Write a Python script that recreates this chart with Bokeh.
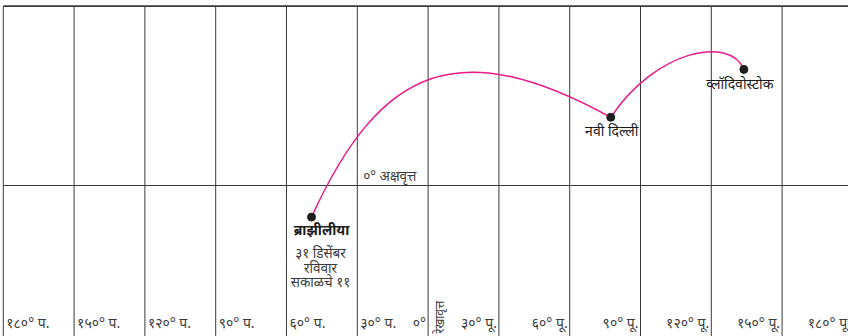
import math
from bokeh.plotting import figure
from bokeh.models import Range1d
from bokeh.core.properties import value
from bokeh.embed import file_html
from bokeh.resources import INLINE

# ---- data ----
grid_lons = [-180, -150, -120, -90, -60, -30, 0, 30, 60, 90, 120, 150, 180]
lon_labels = ["१८०° प.", "१५०° प.", "१२०° प.", "९०° प.", "६०° प.", "३०° प.", "०°",
              "३०° पू.", "६०° पू.", "९०° पू.", "१२०° पू.", "१५०° पू.", "१८०° पू."]
map_top_lat = 76
map_bottom_lat = -70

city_names = ["ब्राझीलीया", "नवी दिल्ली", "व्लॉदिवोस्टोक"]
city_lon = [-49.4, 77.4, 133.8]
city_lat = [-13.4, 28.9, 49.2]

# route legs (cubic curves) between successive cities, control points
leg_c1_lon = [-19.7, 96.4]
leg_c1_lat = [51.7, 57.4]
leg_c2_lon = [13.7, 127.7]
leg_c2_lat = [63.8, 63.6]

date_lines = ["३१ डिसेंबर", "रविवार", "सकाळचे ११"]
equator_label = "०° अक्षवृत्त"
meridian_label = "रेखावृत्त"

FONT = "Noto Sans"
GRID = "#3a3a3a"
TXT = "#1a1a1a"
SUB = "#3a3a3a"

W, H = 848, 336
scale = 2.36
x0 = -427.6 / scale
y_top = 185 / scale
p = figure(width=W, height=H,
           x_range=Range1d(x0, x0 + W / scale),
           y_range=Range1d(y_top - H / scale, y_top),
           x_axis_location=None, y_axis_location=None,
           toolbar_location=None, output_backend="svg",
           min_border=0, outline_line_color=None)
p.grid.visible = False
p.background_fill_color = "white"

# meridians
n = len(grid_lons)
p.segment(x0=grid_lons, y0=[map_bottom_lat] * n, x1=grid_lons, y1=[map_top_lat] * n,
          line_color=GRID, line_width=1)
# equator and top border
p.segment(x0=[grid_lons[0]], y0=[0], x1=[grid_lons[-1]], y1=[0], line_color=GRID, line_width=1)
p.segment(x0=[grid_lons[0]], y0=[map_top_lat], x1=[grid_lons[-1]], y1=[map_top_lat],
          line_color=GRID, line_width=1.6)

# route
p.bezier(x0=city_lon[:-1], y0=city_lat[:-1], x1=city_lon[1:], y1=city_lat[1:],
         cx0=leg_c1_lon, cy0=leg_c1_lat, cx1=leg_c2_lon, cy1=leg_c2_lat,
         line_color="#e8198b", line_width=1.5)
p.scatter(city_lon, city_lat, size=8, fill_color="#1e1e1e", line_color="#1e1e1e")

# city labels
offs = [(10, 12), (1, 13), (-4, 14)]
styles = ["bold", "normal", "normal"]
for name, lo, la, (dx, dy), st in zip(city_names, city_lon, city_lat, offs, styles):
    p.text(x=[lo], y=[la], text=[name], x_offset=dx, y_offset=dy,
           text_align="center", text_baseline="middle", text_font=value(FONT),
           text_font_size="14px", text_font_style=st, text_color=TXT)
for i, line in enumerate(date_lines):
    p.text(x=[city_lon[0]], y=[city_lat[0]], text=[line], x_offset=9, y_offset=36 + 14.5 * i,
           text_align="center", text_baseline="middle", text_font=value(FONT),
           text_font_size="13.5px", text_color=SUB)

# equator label
p.text(x=[grid_lons[5]], y=[0], text=[equator_label], x_offset=6, y_offset=-10,
       text_align="left", text_baseline="middle", text_font=value(FONT),
       text_font_size="13.5px", text_color=SUB)

# longitude labels
ybot = p.y_range.start
for lo, lab in zip(grid_lons, lon_labels):
    if lo < 0:
        al, dx = "left", 3
    else:
        al, dx = "right", -2
    p.text(x=[lo], y=[ybot], text=[lab], x_offset=dx, y_offset=-14,
           text_align=al, text_baseline="middle", text_font=value(FONT),
           text_font_size="14px", text_color=SUB)

# meridian label (rotated)
p.text(x=[0], y=[ybot], text=[meridian_label], x_offset=11, y_offset=-3, angle=math.pi / 2,
       text_align="left", text_baseline="middle", text_font=value(FONT),
       text_font_size="12px", text_color=SUB)

open("out.html", "w").write(file_html(p, INLINE))
